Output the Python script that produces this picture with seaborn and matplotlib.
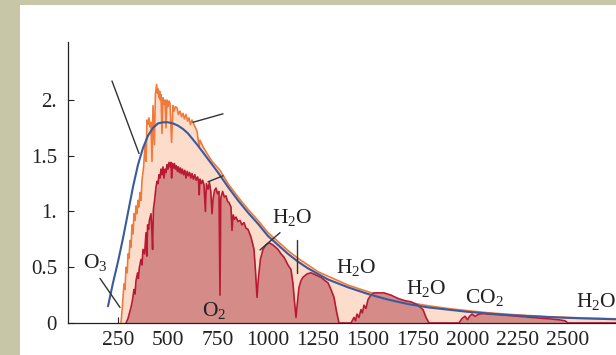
import matplotlib
matplotlib.use("Agg")
import matplotlib.pyplot as plt
from matplotlib.patches import Rectangle
import seaborn as sns
import pandas as pd

# ---------------- data ----------------
# Blackbody curve (blue)
bb_wl = [200, 225, 250, 275, 300, 325, 350, 375, 400, 425, 450, 475, 500, 525, 550,
         575, 600, 650, 700, 750, 800, 850, 900, 950, 1000, 1050, 1100, 1150, 1200,
         1250, 1300, 1400, 1500, 1600, 1700, 1800, 1900, 2000, 2100, 2200, 2300,
         2400, 2500, 2600, 2750]
bb_val = [0.15, 0.36, 0.55, 0.76, 0.99, 1.22, 1.42, 1.57, 1.68, 1.75, 1.79, 1.80,
          1.80, 1.79, 1.77, 1.74, 1.70, 1.59, 1.47, 1.35, 1.22, 1.10, 0.99, 0.89,
          0.78, 0.70, 0.62, 0.55, 0.49, 0.44, 0.39, 0.32, 0.26, 0.21, 0.17, 0.14,
          0.12, 0.10, 0.085, 0.072, 0.062, 0.053, 0.046, 0.040, 0.033]

# Sunlight at top of atmosphere (orange)
toa_wl = [265, 272, 280, 285, 290, 296, 300, 305, 310, 315, 320, 325, 330, 335, 340,
          345, 350, 355, 360, 365, 370, 378, 385, 390, 395, 400, 405, 410, 415, 420,
          425, 432, 437, 443, 447, 450, 455, 458, 462, 465, 470, 475, 480, 485, 490,
          495, 500, 505, 510, 518, 525, 530, 537, 545, 552, 560, 568, 575, 582, 590,
          598, 605, 612, 620, 625, 635, 645, 656, 660, 675, 695, 720, 760, 800, 850,
          900, 950, 1000, 1050, 1100, 1150, 1200, 1250, 1300, 1400, 1500, 1600, 1700,
          1800, 1900, 2000, 2100, 2200, 2300, 2400, 2500, 2600, 2750]
toa_val = [0.0, 0.15, 0.35, 0.30, 0.50, 0.45, 0.62, 0.58, 0.74, 0.68, 0.88, 0.80,
           0.98, 0.92, 1.05, 0.98, 1.10, 1.04, 1.17, 1.10, 1.28, 1.40, 1.60, 1.45,
           1.82, 1.78, 1.84, 1.76, 1.80, 1.45, 1.95, 1.60, 2.05, 2.14, 2.06, 2.10,
           2.02, 2.08, 2.00, 2.05, 1.70, 2.02, 1.96, 2.00, 1.75, 2.00, 1.94, 1.99,
           1.97, 1.62, 1.95, 1.90, 1.94, 1.93, 1.87, 1.90, 1.85, 1.88, 1.83, 1.87,
           1.81, 1.84, 1.78, 1.82, 1.80, 1.76, 1.72, 1.58, 1.64, 1.58, 1.52, 1.45,
           1.37, 1.25, 1.13, 1.02, 0.92, 0.81, 0.73, 0.65, 0.58, 0.52, 0.46, 0.42,
           0.34, 0.28, 0.23, 0.185, 0.155, 0.13, 0.11, 0.092, 0.078, 0.067, 0.057,
           0.050, 0.044, 0.037]

# Radiation at sea level (dark red)
sea_wl = [290, 300, 315, 322, 330, 335, 340, 348, 352, 357, 365, 370, 375, 383, 390,
          394, 398, 403, 407, 415, 420, 423, 427, 433, 440, 445, 450, 455, 460, 465,
          470, 475, 480, 485, 490, 495, 500, 505, 510, 515, 518, 522, 527, 532, 537,
          542, 547, 552, 557, 562, 567, 572, 578, 584, 590, 596, 602, 608, 614, 620,
          627, 634, 641, 648, 653, 656, 660, 667, 673, 680, 687, 692, 700, 707, 714,
          720, 726, 733, 740, 747, 755, 760, 764, 773, 782, 790, 798, 805, 815, 820,
          826, 833, 840, 850, 860, 870, 880, 890, 900, 915, 930, 938, 945, 952, 962,
          975, 990, 1005, 1025, 1050, 1065, 1080, 1100, 1115, 1125, 1132, 1140, 1148,
          1155, 1165, 1175, 1195, 1215, 1240, 1265, 1285, 1300, 1315, 1330, 1343,
          1355, 1415, 1430, 1438, 1445, 1455, 1465, 1472, 1480, 1490, 1500, 1515,
          1530, 1555, 1580, 1615, 1650, 1685, 1715, 1750, 1775, 1790, 1805, 1955,
          1970, 1985, 1998, 2008, 2020, 2035, 2055, 2080, 2100, 2150, 2200, 2250,
          2300, 2350, 2400, 2450, 2485, 2500, 2750]
sea_val = [0.0, 0.04, 0.14, 0.20, 0.30, 0.26, 0.38, 0.45, 0.40, 0.50, 0.57, 0.52,
           0.66, 0.62, 0.81, 0.60, 0.88, 0.84, 0.92, 0.98, 0.80, 0.66, 1.02, 1.10,
           1.22, 1.27, 1.25, 1.33, 1.30, 1.38, 1.33, 1.40, 1.30, 1.38, 1.35, 1.42,
           1.38, 1.44, 1.40, 1.44, 1.30, 1.43, 1.39, 1.43, 1.38, 1.41, 1.36, 1.40,
           1.35, 1.39, 1.34, 1.38, 1.33, 1.37, 1.30, 1.36, 1.32, 1.35, 1.30, 1.34,
           1.29, 1.33, 1.28, 1.31, 1.27, 1.15, 1.29, 1.25, 1.28, 1.24, 1.00, 1.25,
           1.20, 1.26, 1.18, 0.98, 1.12, 1.19, 1.21, 1.16, 1.18, 0.25, 1.12, 1.18,
           1.13, 1.14, 1.09, 1.08, 1.04, 0.83, 0.97, 0.93, 0.95, 0.91, 0.92, 0.88,
           0.90, 0.85, 0.84, 0.77, 0.66, 0.45, 0.23, 0.40, 0.57, 0.66, 0.70, 0.72,
           0.70, 0.66, 0.62, 0.59, 0.52, 0.48, 0.35, 0.20, 0.05, 0.20, 0.32, 0.38,
           0.41, 0.44, 0.45, 0.43, 0.41, 0.38, 0.36, 0.30, 0.23, 0.10, 0.0, 0.0,
           0.05, 0.02, 0.08, 0.05, 0.12, 0.09, 0.16, 0.13, 0.21, 0.25, 0.27, 0.27,
           0.27, 0.25, 0.22, 0.20, 0.19, 0.16, 0.12, 0.05, 0.0, 0.0, 0.04, 0.06,
           0.03, 0.06, 0.08, 0.06, 0.08, 0.085, 0.08, 0.075, 0.068, 0.06, 0.052,
           0.045, 0.038, 0.03, 0.02, 0.0, 0.0]

x_ticks = [250, 500, 750, 1000, 1250, 1500, 1750, 2000, 2250, 2500]
y_ticks = [0, 0.5, 1.0, 1.5, 2.0]
y_tick_labels = ["0", "0.5", "1.", "1.5", "2."]

band_labels = [r"O$_{\mathregular{3}}$", r"O$_{\mathregular{2}}$",
               r"H$_{\mathregular{2}}$O", r"H$_{\mathregular{2}}$O",
               r"H$_{\mathregular{2}}$O", r"CO$_{\mathregular{2}}$",
               r"H$_{\mathregular{2}}$O"]
band_x = [135, 730, 1120, 1440, 1790, 2080, 2640]
band_y = [0.54, 0.108, 0.95, 0.50, 0.31, 0.233, 0.19]

# ---------------- style ----------------
sns.set_style("ticks")
plt.rcParams["font.family"] = ["Liberation Serif", "DejaVu Serif"]
plt.rcParams["mathtext.fontset"] = "custom"
plt.rcParams["mathtext.rm"] = "Liberation Serif"
plt.rcParams["mathtext.it"] = "Liberation Serif:italic"

C_BLUE = "#3a5a9e"
C_ORANGE = "#ef7a3a"
C_PEACH = "#fcdccb"
C_RED = "#b81a35"
C_REDFILL = "#d58c88"
C_TXT = "#222222"

fig = plt.figure(figsize=(6.16, 3.55), dpi=100, facecolor="#c7c6a6")
# white panel behind the chart
bg = fig.add_axes([20 / 616, 0, 1 - 20 / 616, 350 / 355], zorder=-5)
bg.set_axis_off()
bg.add_patch(Rectangle((0, 0), 1, 1, transform=bg.transAxes,
                       facecolor="white", edgecolor="none"))

ax = fig.add_axes([68 / 616, 32 / 355, 548 / 616, 281 / 355], zorder=1)
ax.set_facecolor("none")

toa = pd.DataFrame({"wl": toa_wl, "val": toa_val})
sea = pd.DataFrame({"wl": sea_wl, "val": sea_val})
bb = pd.DataFrame({"wl": bb_wl, "val": bb_val})

ax.fill_between(toa["wl"], 0, toa["val"], color=C_PEACH, lw=0, zorder=1)
sns.lineplot(data=toa, x="wl", y="val", ax=ax, color=C_ORANGE, lw=1.2, zorder=2,
             estimator=None)
ax.fill_between(sea["wl"], 0, sea["val"], color=C_REDFILL, lw=0, zorder=3)
sns.lineplot(data=sea, x="wl", y="val", ax=ax, color=C_RED, lw=1.2, zorder=4,
             estimator=None)
sns.lineplot(data=bb, x="wl", y="val", ax=ax, color=C_BLUE, lw=1.5, zorder=5,
             estimator=None)

# pointer lines (label stubs)
ptr_kw = dict(color="#333333", lw=1.0, clip_on=False, zorder=6)
ax.plot([220, 355], [2.17, 1.52], **ptr_kw)
ax.plot([625, 775], [1.80, 1.876], **ptr_kw)
ax.plot([700, 775], [1.266, 1.32], **ptr_kw)
ax.plot([160, 260], [0.40, 0.14], **ptr_kw)
ax.plot([1060, 960], [0.81, 0.655], **ptr_kw)
ax.plot([1145, 1145], [0.745, 0.45], **ptr_kw)

for lab, bx, by in zip(band_labels, band_x, band_y):
    ax.text(bx, by, lab, ha="center", va="center", fontsize=15.5, color=C_TXT,
            zorder=7, clip_on=False)

ax.set_xlim(0, 2740)
ax.set_ylim(0, 2.52)
ax.set_xticks(x_ticks)
ax.set_xticklabels([str(t) for t in x_ticks])
ax.set_yticks(y_ticks)
ax.set_yticklabels(y_tick_labels)
ax.set_xlabel("")
ax.set_ylabel("")
for s in ["top", "right"]:
    ax.spines[s].set_visible(False)
for s in ["left", "bottom"]:
    ax.spines[s].set_color("#222222")
    ax.spines[s].set_linewidth(0.9)
    ax.spines[s].set_zorder(8)
ax.tick_params(axis="both", direction="in", length=4, width=0.8, color="#222222",
               labelcolor=C_TXT)
ax.tick_params(axis="x", labelsize=15.5, pad=6)
ax.tick_params(axis="y", labelsize=15, pad=8)

fig.savefig("out.png", dpi=100, facecolor=fig.get_facecolor())
